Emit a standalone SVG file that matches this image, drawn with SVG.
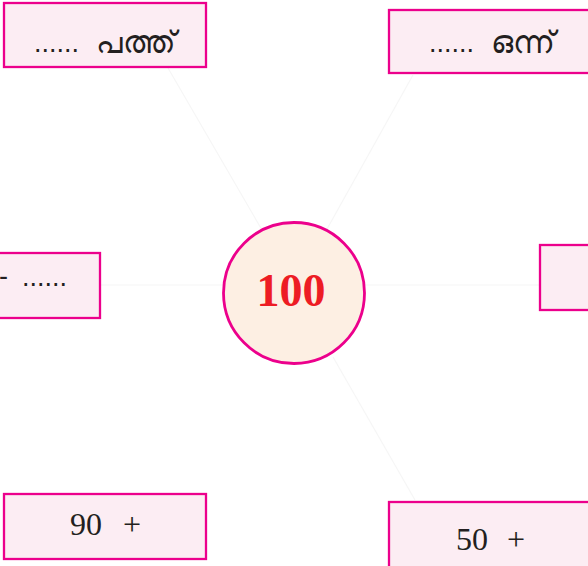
<svg xmlns="http://www.w3.org/2000/svg" width="588" height="566" viewBox="0 0 588 566">
<style>
.box{fill:#fcedf3;stroke:#ec008c;stroke-width:2.3}
.circ{fill:#fdefe3;stroke:#ec008c;stroke-width:2.8}
.dots{font-family:"Liberation Sans","Noto Sans",sans-serif;font-size:27px;fill:#231f20}
.ml{font-family:"Noto Sans","Liberation Sans",sans-serif;font-size:31px;fill:#231f20}
.num{font-family:"Liberation Serif",serif;font-size:32px;fill:#231f20}
.big{font-family:"Liberation Serif",serif;font-size:46px;font-weight:bold;fill:#ed1c24}
.conn{stroke:#f6f6f6;stroke-width:1.2;fill:none}
</style>
<rect width="588" height="566" fill="#ffffff"/>
<g id="connectors">
<line class="conn" x1="168" y1="68" x2="262" y2="230"/>
<line class="conn" x1="413" y1="75" x2="327" y2="229"/>
<line class="conn" x1="333" y1="357" x2="415" y2="500"/>
<line class="conn" x1="101" y1="285" x2="223" y2="285"/>
<line class="conn" x1="365" y1="285" x2="540" y2="285"/>
</g>
<g id="center">
<circle class="circ" cx="294" cy="293" r="70.5"/>
<text class="big" x="291" y="306" text-anchor="middle">100</text>
</g>
<g id="top-left">
<rect class="box" x="4" y="3" width="202" height="64"/>
<text class="dots" x="34" y="52">......</text>
<text class="ml" x="96" y="53">പത്ത്</text>
</g>
<g id="top-right">
<rect class="box" x="389" y="10" width="210" height="63"/>
<text class="dots" x="429" y="52">......</text>
<text class="ml" x="491" y="53">ഒന്ന്</text>
</g>
<g id="left">
<rect class="box" x="-20" y="253" width="120" height="65"/>
<text class="dots" x="-1" y="285">-</text>
<text class="dots" x="22" y="286">......</text>
</g>
<g id="right">
<rect class="box" x="540" y="245" width="60" height="65"/>
</g>
<g id="bottom-left">
<rect class="box" x="4" y="494" width="202" height="65"/>
<text class="num" x="70" y="535">90<tspan x="123">+</tspan></text>
</g>
<g id="bottom-right">
<rect class="box" x="389" y="502" width="210" height="70"/>
<text class="num" x="456" y="550">50<tspan x="507">+</tspan></text>
</g>
</svg>
